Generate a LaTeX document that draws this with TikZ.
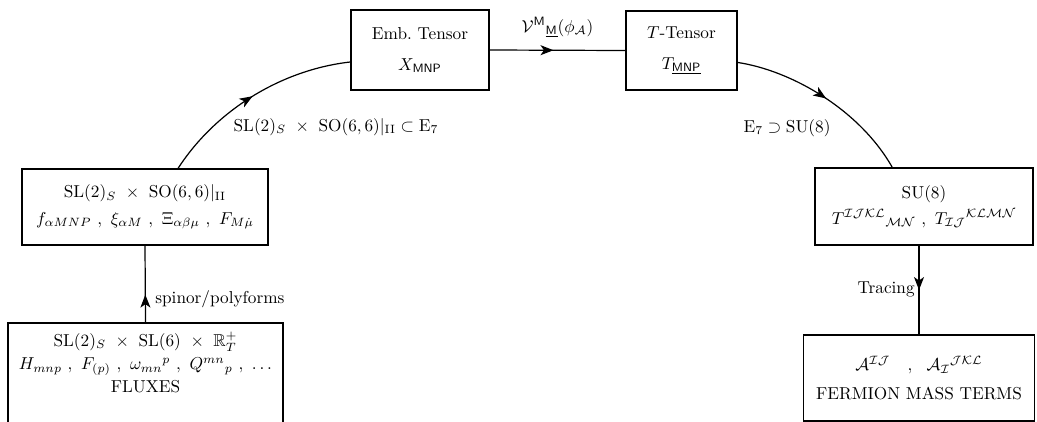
\documentclass[tikz,border=0pt]{standalone}
\usepackage{amsmath,amssymb}
\usetikzlibrary{arrows.meta,decorations.markings,calc}
\tikzset{
  box/.style={draw, line width=1pt, inner sep=0pt, align=center},
  conn/.style={line width=0.7pt, postaction={decorate},
    decoration={markings, mark=at position #1 with {\arrow{Stealth[length=7.5pt,width=5.8pt,inset=2pt]}}}},
  conn/.default=0.5,
  lab/.style={inner sep=0pt}
}
\begin{document}
\begin{tikzpicture}[x=0.58pt,y=-0.58pt]
\useasboundingbox (0,0) rectangle (1037,421);
% boxes
\node[box, minimum width=138*0.58pt, minimum height=80*0.58pt] (emb) at (420,50)
  {Emb.\ Tensor\\[6pt] $X_{\mathsf{MNP}}$};
\node[box, minimum width=111*0.58pt, minimum height=79*0.58pt] (ttens) at (681.5,50.5)
  {$T$-Tensor\\[6pt] $T_{\underline{\mathsf{MNP}}}$};
\node[box, minimum width=246*0.58pt, minimum height=76*0.58pt] (so66) at (145,207)
  {$\mathrm{SL}(2)_S\ \times\ \mathrm{SO}(6,6)|_{\mathrm{II}}$\\[3.5pt]
   $f_{\alpha MNP}\ ,\ \xi_{\alpha M}\ ,\ \Xi_{\alpha\beta\mu}\ ,\ F_{M\dot{\mu}}$};
\node[box, minimum width=275*0.58pt, minimum height=110*0.58pt] (flux) at (145.5,378) {};
\node[lab, align=center] (fluxtext) at (145.5,362)
  {$\mathrm{SL}(2)_S\ \times\ \mathrm{SL}(6)\ \times\ \mathbb{R}^+_T$\\[1.5pt]
   $H_{mnp}\ ,\ F_{(p)}\ ,\ \omega_{mn}{}^{p}\ ,\ Q^{mn}{}_{p}\ ,\ \ldots$\\[1pt]
   FLUXES};
\node[box, minimum width=218*0.58pt, minimum height=77*0.58pt] (su8) at (924,206.5)
  {SU(8)\\[3pt]
   $T^{\mathcal{IJKL}}{}_{\mathcal{MN}}\ ,\ T_{\mathcal{IJ}}{}^{\mathcal{KLMN}}$};
\node[box, minimum width=231*0.58pt, minimum height=86*0.58pt] (ferm) at (919,378)
  {$\mathcal{A}^{\mathcal{IJ}}\quad ,\ \ \mathcal{A}_{\mathcal{I}}{}^{\mathcal{JKL}}$\\[5pt]
   FERMION MASS TERMS};
% connectors
\draw[conn=0.47] (emb.east) -- node[lab, above=7pt] (vlab)
  {$\mathcal{V}^{\mathsf{M}}{}_{\underline{\mathsf{M}}}(\phi_{\mathcal{A}})$} (ttens.west);
\coordinate (lstart) at ($(so66.north west)!0.634!(so66.north east)$);
\coordinate (lend) at ($(emb.west)+(0,12)$);
\draw[conn=0.5] (lstart) .. controls +(37,-57) and +(-70,8) .. (lend);
\node[lab] (llab) at (336,127) {$\mathrm{SL}(2)_S\ \times\ \mathrm{SO}(6,6)|_{\mathrm{II}}\subset \mathrm{E}_7$};
\coordinate (rstart) at ($(ttens.east)+(0,12)$);
\coordinate (rend) at ($(su8.north west)!0.355!(su8.north east)$);
\draw[conn=0.5] (rstart) .. controls +(53,8) and +(-33,-58) .. (rend);
\node[lab] (rlab) at (787,128) {$\mathrm{E}_7\supset \mathrm{SU}(8)$};
\draw[conn=0.36] (flux.north) -- (so66.south);
\node[lab, anchor=west] (splab) at (155,299) {spinor/polyforms};
\draw[conn=0.5] (su8.south -| ferm.north) -- (ferm.north);
\node[lab, anchor=east] (trlab) at (915,289) {Tracing};
\end{tikzpicture}
\end{document}
